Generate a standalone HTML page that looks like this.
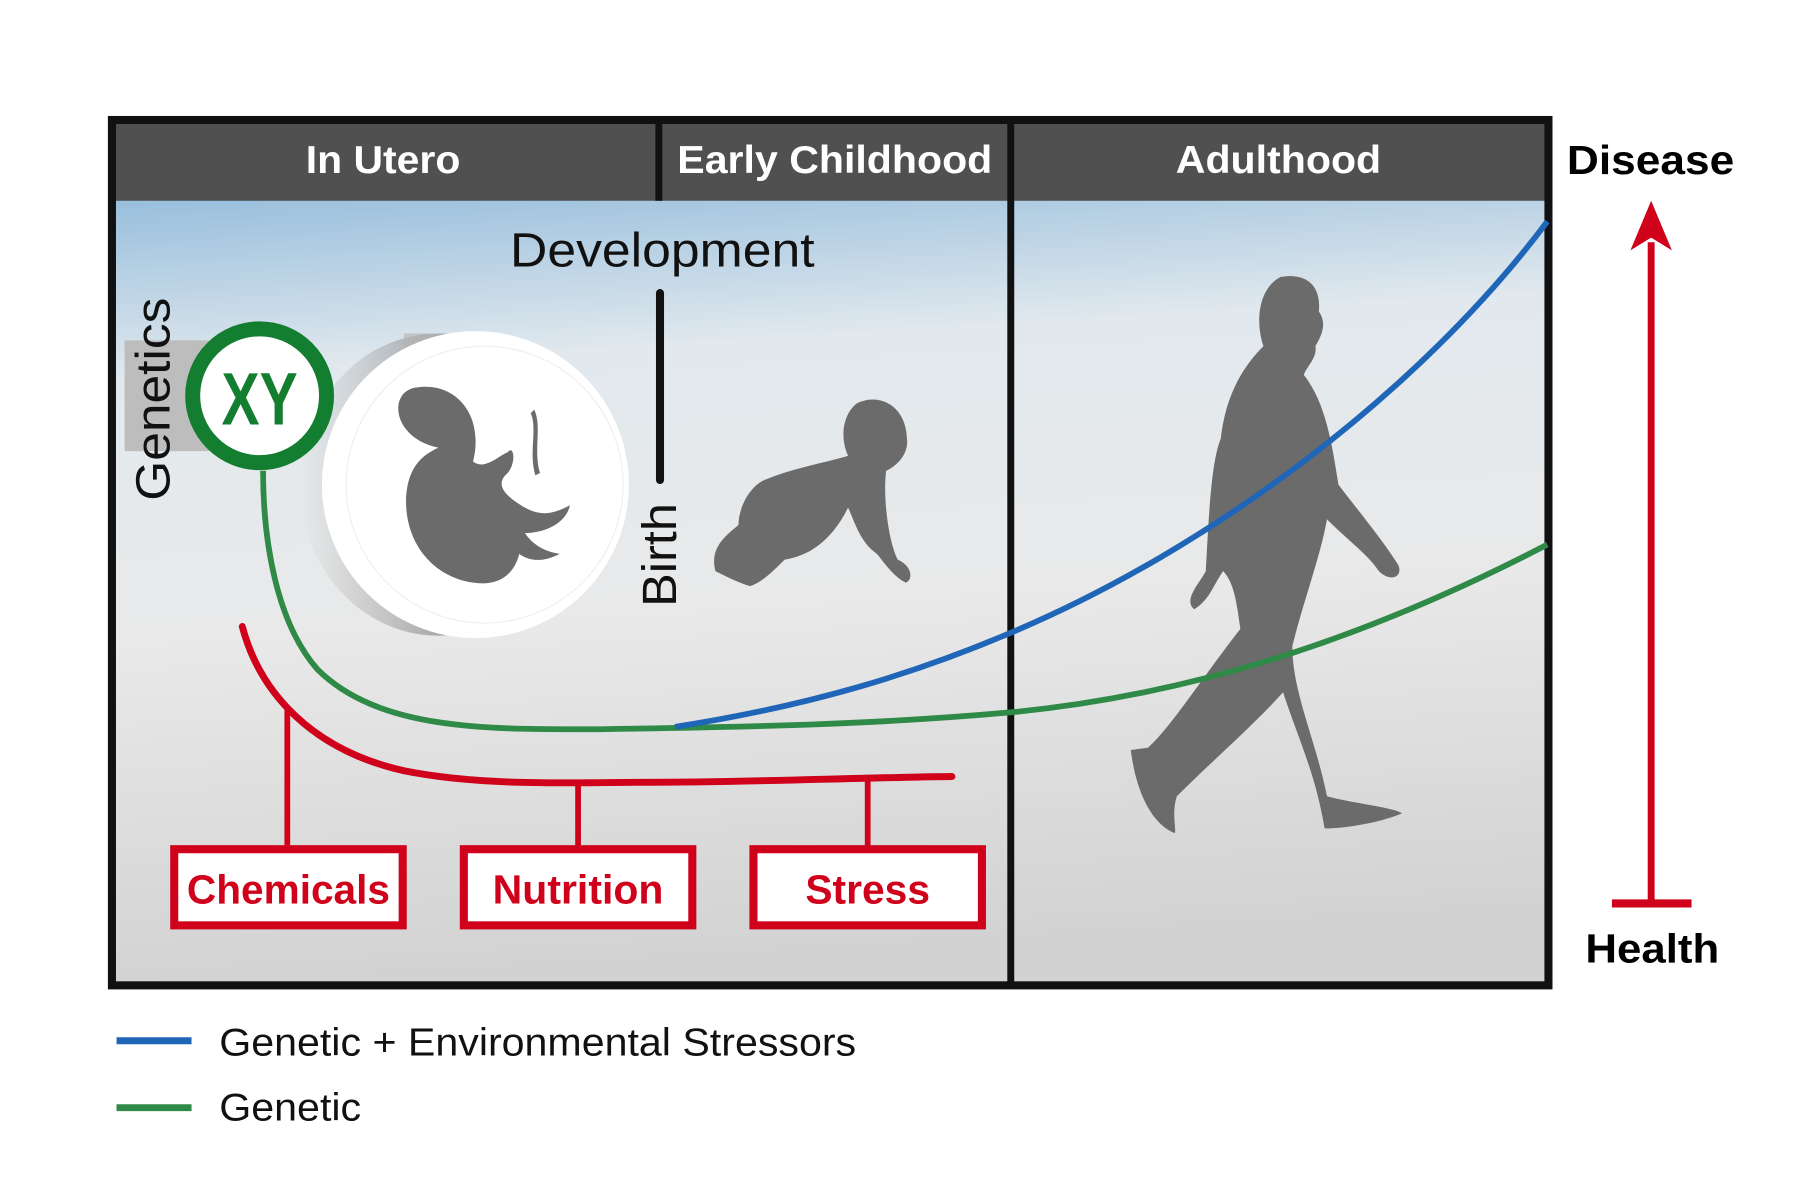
<!DOCTYPE html>
<html><head><meta charset="utf-8"><style>
html,body{margin:0;padding:0;background:#fff;width:1800px;height:1204px;overflow:hidden}
svg{display:block}
text{font-family:"Liberation Sans",Arial,sans-serif}
</style></head><body>
<svg width="1800" height="1204" viewBox="0 0 1560 1043.5" preserveAspectRatio="none" xmlns="http://www.w3.org/2000/svg">
<defs>
<linearGradient id="bg" x1="0" y1="0" x2="0.1" y2="1">
<stop offset="0" stop-color="#78acd5"/>
<stop offset="0.3" stop-color="#e2e9ee"/>
<stop offset="0.6" stop-color="#e9e9e9"/>
<stop offset="1" stop-color="#d2d2d2"/>
</linearGradient>
<linearGradient id="sh" x1="0" y1="0" x2="1" y2="0">
<stop offset="0" stop-color="#aaa" stop-opacity="0"/>
<stop offset="0.5" stop-color="#999" stop-opacity="0.8"/>
<stop offset="1" stop-color="#bbb"/>
</linearGradient>
</defs>
<rect width="1560" height="1043.5" fill="#fff"/>
<rect x="97" y="104" width="1245" height="750" fill="url(#bg)"/>
<rect x="97" y="104" width="1245" height="70" fill="#505050"/>
<line x1="571" y1="104" x2="571" y2="174" stroke="#111" stroke-width="6"/>
<line x1="876" y1="104" x2="876" y2="854" stroke="#111" stroke-width="6"/>
<rect x="97" y="104" width="1245" height="750" fill="none" stroke="#111" stroke-width="7"/>
<text x="265" y="150" font-size="34" font-weight="bold" fill="#fff" textLength="134" lengthAdjust="spacingAndGlyphs">In Utero</text>
<text x="587" y="150" font-size="34" font-weight="bold" fill="#fff" textLength="273" lengthAdjust="spacingAndGlyphs">Early Childhood</text>
<text x="1019" y="150" font-size="34" font-weight="bold" fill="#fff" textLength="178" lengthAdjust="spacingAndGlyphs">Adulthood</text>
<text x="1358" y="151" font-size="35" font-weight="bold" fill="#000" textLength="145" lengthAdjust="spacingAndGlyphs">Disease</text>
<text x="1374" y="834" font-size="35" font-weight="bold" fill="#000" textLength="116" lengthAdjust="spacingAndGlyphs">Health</text>
<line x1="1431" y1="783" x2="1431" y2="210" stroke="#d0021b" stroke-width="6"/>
<polygon points="1431,174 1413,217 1431,206 1449,217" fill="#d0021b"/>
<line x1="1397" y1="783" x2="1466" y2="783" stroke="#d0021b" stroke-width="7"/>
<text x="442" y="231" font-size="42" fill="#111" textLength="264" lengthAdjust="spacingAndGlyphs">Development</text>
<line x1="572" y1="254" x2="572" y2="416" stroke="#111" stroke-width="7" stroke-linecap="round"/>
<text transform="translate(586,526) rotate(-90)" font-size="42" fill="#111" textLength="90" lengthAdjust="spacingAndGlyphs">Birth</text>
<rect x="108" y="295" width="118" height="96" fill="#bdbdbd"/>
<text transform="translate(147,434) rotate(-90)" font-size="42" fill="#111" textLength="176" lengthAdjust="spacingAndGlyphs">Genetics</text>
<ellipse cx="380" cy="420" rx="120" ry="131" fill="url(#sh)"/>
<rect x="350" y="289" width="60" height="242" fill="#b4b4b4" opacity="0.6"/>
<ellipse cx="412" cy="420" rx="133" ry="133" fill="#fff"/>
<ellipse cx="420" cy="420" rx="120" ry="120" fill="#fff" stroke="#eee" stroke-width="1"/>
<path d="M380 388 C340 380 336 340 360 336 C395 330 420 360 410 400 C420 408 432 395 440 392 C445 385 448 400 440 410 C428 420 438 430 455 440 C470 448 480 445 494 438 C490 455 470 462 455 462 C460 470 470 478 485 480 C470 488 458 486 450 480 C445 500 430 508 410 505 C375 500 350 470 352 430 C354 405 365 395 380 388 Z" fill="#6b6b6b"/>
<path d="M463 355 C470 370 462 390 468 410 L464 412 C458 392 466 372 460 358 Z" fill="#6b6b6b"/>
<path d="M742 350 C760 340 785 350 786 380 C788 395 775 405 768 408 C765 430 770 470 778 485 C790 490 792 502 785 505 C775 500 768 490 760 480 C745 470 740 450 735 440 C720 470 700 482 680 485 C670 495 660 505 650 508 C640 505 630 500 620 495 C615 475 628 465 640 455 C640 440 650 420 665 415 C690 405 720 400 735 395 C728 380 730 360 742 350 Z" fill="#6b6b6b"/>
<path d="M1110 240 C1135 236 1145 250 1143 270 C1150 280 1146 290 1140 300 C1142 310 1132 318 1130 325 C1150 350 1155 390 1160 420 C1175 440 1200 470 1212 490 C1216 500 1205 505 1195 495 C1185 480 1170 470 1150 450 C1145 480 1130 520 1120 560 C1120 600 1140 640 1150 690 C1165 695 1210 700 1215 705 C1190 715 1160 718 1148 718 C1140 670 1125 640 1112 600 C1085 630 1050 660 1020 690 C1015 705 1020 720 1018 722 C1000 715 985 690 980 650 L995 648 C1015 630 1040 590 1075 545 C1072 525 1070 505 1060 495 C1050 510 1048 520 1035 528 C1025 520 1040 505 1045 495 C1048 440 1050 400 1058 380 C1062 345 1075 320 1095 300 C1088 280 1090 250 1110 240 Z" fill="#6b6b6b"/>
<path d="M228 408 C228 470 240 540 275 580 C330 635 430 632 520 632 C650 630 760 628 880 617 C1050 600 1200 545 1341 472" fill="none" stroke="#2e8a46" stroke-width="5"/>
<path d="M585 630 C700 612 790 585 877 548 C1050 475 1230 340 1341 192" fill="none" stroke="#2066b8" stroke-width="5"/>
<path d="M210 543 C225 600 270 650 350 668 C420 682 500 678 560 678 C650 678 740 674 825 673" fill="none" stroke="#d0021b" stroke-width="6" stroke-linecap="round"/>
<line x1="249" y1="612" x2="249" y2="735" stroke="#d0021b" stroke-width="5"/>
<line x1="501" y1="678" x2="501" y2="735" stroke="#d0021b" stroke-width="5"/>
<line x1="752" y1="675" x2="752" y2="735" stroke="#d0021b" stroke-width="5"/>
<circle cx="225" cy="343" r="58" fill="#fff" stroke="#137e2f" stroke-width="13"/>
<text x="225" y="368" font-size="64" font-weight="bold" fill="#137e2f" text-anchor="middle" textLength="66" lengthAdjust="spacingAndGlyphs">XY</text>
<rect x="151" y="736" width="198" height="66" fill="#fff" stroke="#d0021b" stroke-width="7"/>
<rect x="402" y="736" width="198" height="66" fill="#fff" stroke="#d0021b" stroke-width="7"/>
<rect x="653" y="736" width="198" height="66" fill="#fff" stroke="#d0021b" stroke-width="7"/>
<text x="162" y="783" font-size="35" font-weight="bold" fill="#d0021b" textLength="176" lengthAdjust="spacingAndGlyphs">Chemicals</text>
<text x="427" y="783" font-size="35" font-weight="bold" fill="#d0021b" textLength="148" lengthAdjust="spacingAndGlyphs">Nutrition</text>
<text x="698" y="783" font-size="35" font-weight="bold" fill="#d0021b" textLength="108" lengthAdjust="spacingAndGlyphs">Stress</text>
<line x1="101" y1="902" x2="166" y2="902" stroke="#2066b8" stroke-width="6"/>
<line x1="101" y1="960" x2="166" y2="960" stroke="#2e8a46" stroke-width="6"/>
<text x="190" y="915" font-size="34" fill="#111" textLength="552" lengthAdjust="spacingAndGlyphs">Genetic + Environmental Stressors</text>
<text x="190" y="971" font-size="34" fill="#111" textLength="123" lengthAdjust="spacingAndGlyphs">Genetic</text>
</svg>
</body></html>
